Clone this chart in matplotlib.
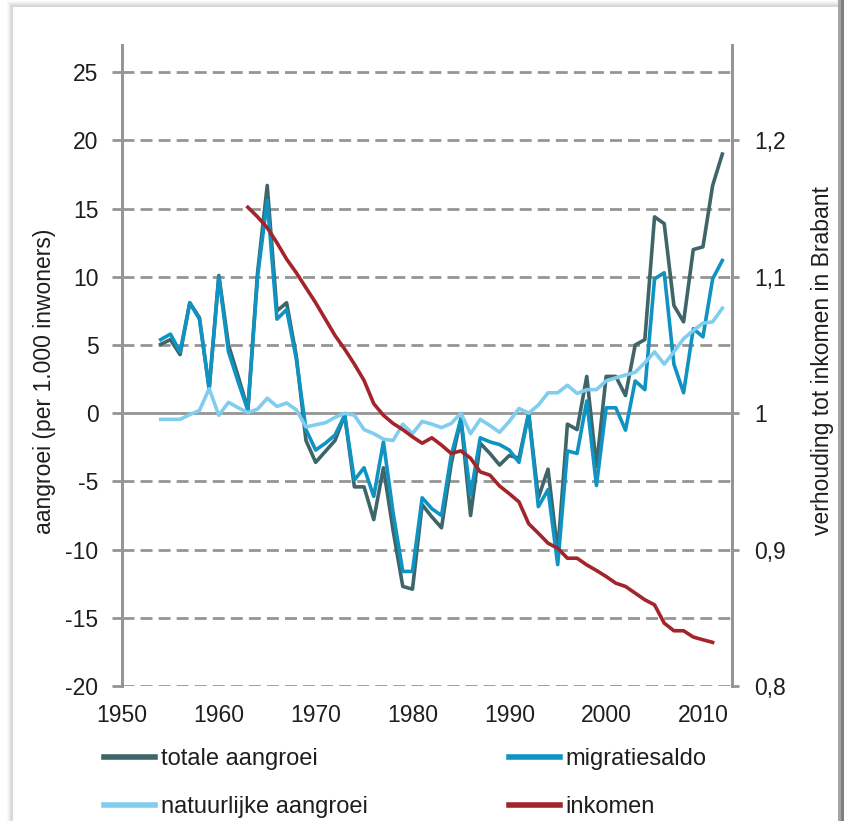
import numpy as np
import matplotlib
matplotlib.use('Agg')
import matplotlib.pyplot as plt
from matplotlib.patches import Rectangle

plt.rcParams['font.family'] = ['Liberation Sans', 'DejaVu Sans']

# ── data ─────────────────────────────────────────────────────────────────────
years = np.arange(1954, 2013)

totale = [5.05, 5.4, 4.3, 8.1, 7.0, 1.8, 10.1, 5.0, 2.7, 0.3,
          10.3, 16.7, 7.5, 8.1, 4.2, -2.0, -3.6, -2.8, -2.0, -0.15,
          -5.4, -5.4, -7.8, -4.0, -8.6, -12.7, -12.9, -6.7, -7.6, -8.4,
          -3.7, -0.4, -7.5, -2.2, -2.95, -3.8, -3.1, -3.3, 0.0, -6.2,
          -4.1, -10.2, -0.8, -1.2, 2.7, -3.9, 2.7, 2.7, 1.3, 5.0,
          5.4, 14.4, 13.9, 7.9, 6.7, 12.0, 12.2, 16.7, 19.0]

migratie = [5.4, 5.8, 4.5, 8.1, 6.9, 1.8, 10.0, 4.5, 2.3, 0.2,
            10.0, 15.6, 6.9, 7.6, 4.0, -1.2, -2.7, -2.2, -1.6, -0.15,
            -4.9, -4.0, -6.1, -2.1, -7.3, -11.6, -11.6, -6.2, -7.0, -7.5,
            -3.1, -0.4, -6.0, -1.8, -2.1, -2.3, -2.7, -3.6, 0.0, -6.85,
            -5.6, -11.1, -2.76, -2.95, 0.9, -5.3, 0.4, 0.4, -1.24, 2.37,
            1.73, 9.85, 10.3, 3.6, 1.5, 6.2, 5.6, 9.85, 11.2]

natuurlijk = [-0.45, -0.45, -0.45, -0.1, 0.2, 1.8, -0.15, 0.8, 0.4, 0.05,
              0.3, 1.1, 0.5, 0.75, 0.25, -1.0, -0.85, -0.7, -0.3, 0.0,
              -0.15, -1.2, -1.5, -1.9, -2.0, -0.8, -1.5, -0.6, -0.8, -1.05,
              -0.75, 0.0, -1.5, -0.45, -0.9, -1.4, -0.6, 0.35, 0.0, 0.6,
              1.5, 1.5, 2.05, 1.45, 1.73, 1.73, 2.37, 2.6, 2.8, 3.0,
              3.7, 4.5, 3.6, 4.5, 5.46, 6.07, 6.6, 6.7, 7.7]

ink_years = np.arange(1963, 2012)
inkomen = [1.151, 1.144, 1.136, 1.125, 1.113, 1.103, 1.092, 1.081, 1.069, 1.057,
           1.047, 1.036, 1.024, 1.007, 0.9985, 0.9925, 0.988, 0.9827, 0.978, 0.982,
           0.9766, 0.9705, 0.9724, 0.967, 0.957, 0.9546, 0.9466, 0.941, 0.935, 0.919,
           0.912, 0.9047, 0.901, 0.8937, 0.8937, 0.8888, 0.8847, 0.8803, 0.8754, 0.873,
           0.8681, 0.8632, 0.8595, 0.8461, 0.8405, 0.8405, 0.8359, 0.8339, 0.832]

x_ticks = [1950, 1960, 1970, 1980, 1990, 2000, 2010]
y_ticks = [-20, -15, -10, -5, 0, 5, 10, 15, 20, 25]
r_ticks = [0.8, 0.9, 1.0, 1.1, 1.2]
r_labels = ['0,8', '0,9', '1', '1,1', '1,2']

C_TOT = '#3e6669'
C_MIG = '#0f93c2'
C_NAT = '#80cdee'
C_INK = '#a3252b'
C_GRID = '#959595'
C_TXT = '#1e1e1e'
FS = 16.5

# ── figure + card ────────────────────────────────────────────────────────────
W, H = 845, 821
fig = plt.figure(figsize=(W / 100, H / 100), dpi=100)
fig.patch.set_facecolor('white')

# soft shadow around the card, drawn behind the axes
for i, a in enumerate([0.04, 0.05, 0.06, 0.07, 0.08]):
    off = 6 - i
    fig.patches.append(Rectangle(((13 - off) / W, 0), (825 + 2 * off) / W,
                                 (814 + off) / H, transform=fig.transFigure,
                                 facecolor='#777777', alpha=a, edgecolor='none',
                                 zorder=-10))
fig.patches.append(Rectangle((838 / W, 0), 7 / W, 1, transform=fig.transFigure,
                             facecolor='#a5a5a5', edgecolor='none', zorder=-9))
fig.patches.append(Rectangle((841 / W, 0), 4 / W, 1, transform=fig.transFigure,
                             facecolor='#808080', edgecolor='none', zorder=-9))
fig.patches.append(Rectangle((13 / W, 0), 825 / W, 814 / H, transform=fig.transFigure,
                             facecolor='white', edgecolor='none', zorder=-8))

ax = fig.add_axes([122 / W, (H - 686) / H, 610 / W, 641 / H])
ax.set_facecolor('none')
ax2 = ax.twinx()
ax.set_zorder(2)
ax2.set_zorder(3)

# ── grid ─────────────────────────────────────────────────────────────────────
for yv in y_ticks:
    if yv == 0:
        ax.axhline(0, color=C_GRID, lw=2.0, zorder=1)
    else:
        ax.axhline(yv, color=C_GRID, lw=2.0, linestyle=(0, (4.3, 2.2)), zorder=1)

# ── series ───────────────────────────────────────────────────────────────────
l_tot, = ax.plot(years, totale, color=C_TOT, lw=2.6, zorder=3)
l_mig, = ax.plot(years, migratie, color=C_MIG, lw=2.6, zorder=4)
l_nat, = ax.plot(years, natuurlijk, color=C_NAT, lw=2.6, zorder=5)
l_ink, = ax2.plot(ink_years, inkomen, color=C_INK, lw=2.6, zorder=6)

# ── axes ─────────────────────────────────────────────────────────────────────
ax.set_xlim(1950, 2013)
ax.set_ylim(-20, 27)
ax2.set_ylim(0.8, 1.27)

for a in (ax, ax2):
    a.spines['top'].set_visible(False)
    a.spines['bottom'].set_visible(False)
    for s in ('left', 'right'):
        a.spines[s].set_color(C_GRID)
        a.spines[s].set_linewidth(2.0)

ax.set_xticks(x_ticks)
ax.set_xticklabels([str(v) for v in x_ticks])
ax.tick_params(axis='x', length=0, pad=13, labelsize=FS, labelcolor=C_TXT)
ax.set_yticks(y_ticks)
ax.set_yticklabels([str(v) for v in y_ticks])
ax.tick_params(axis='y', direction='out', length=7, width=2, color=C_GRID,
               pad=10, labelsize=FS, labelcolor=C_TXT)

ax2.set_yticks(r_ticks)
ax2.set_yticklabels(r_labels)
ax2.tick_params(axis='y', direction='out', length=5, width=2, color=C_GRID,
                pad=11, labelsize=FS, labelcolor=C_TXT)

ax.set_ylabel('aangroei (per 1.000 inwoners)', fontsize=FS, color=C_TXT)
ax.yaxis.set_label_coords(-0.108, 0.476)
ax2.set_ylabel('verhouding tot inkomen in Brabant', fontsize=FS, color=C_TXT)
ax2.yaxis.set_label_coords(1.129, 0.508)

# ── legend (two columns) ─────────────────────────────────────────────────────
leg_kw = dict(loc='upper left', frameon=False, fontsize=17, handlelength=2.15,
              handletextpad=0.25, labelspacing=1.1, borderaxespad=0,
              borderpad=0, labelcolor=C_TXT)
leg1 = fig.legend([l_tot, l_nat], ['totale aangroei', 'natuurlijke aangroei'],
                  bbox_to_anchor=(104 / W, 1 - 748 / H), **leg_kw)
leg2 = fig.legend([l_mig, l_ink], ['migratiesaldo', 'inkomen'],
                  bbox_to_anchor=(509 / W, 1 - 748 / H), **leg_kw)
for leg in (leg1, leg2):
    for h in leg.legend_handles:
        h.set_linewidth(4)

fig.savefig('out.png', dpi=100, facecolor=fig.get_facecolor())
